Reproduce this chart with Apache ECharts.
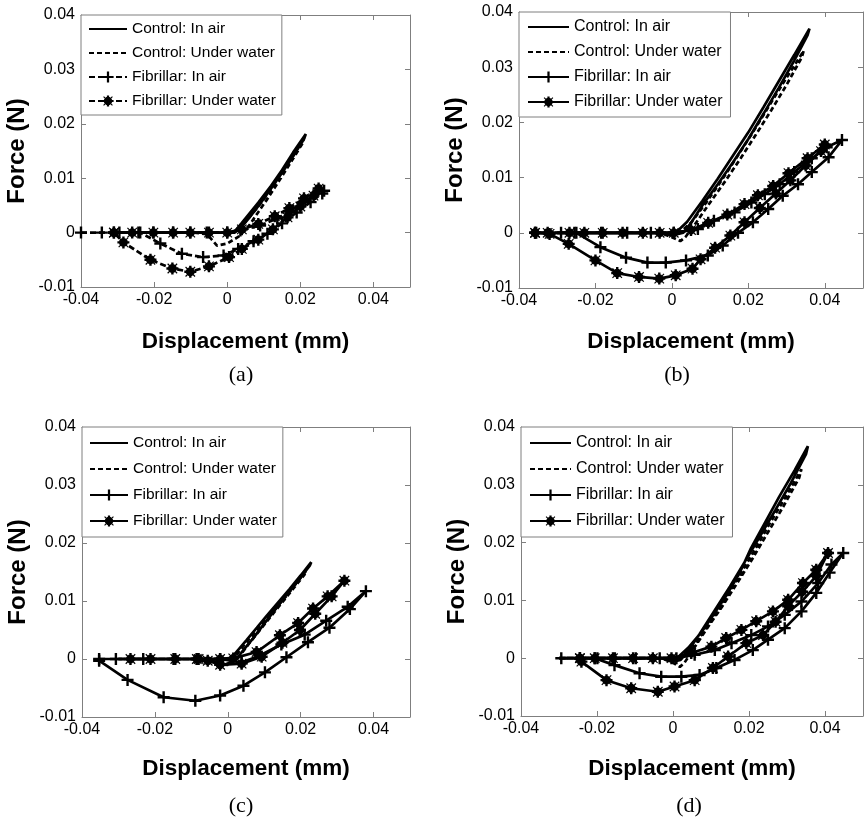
<!DOCTYPE html>
<html>
<head>
<meta charset="utf-8">
<script src="https://cdn.jsdelivr.net/npm/echarts@6/dist/echarts.min.js"></script>
<style>
html,body{margin:0;padding:0;background:#fff;}
#chart{width:865px;height:821px;}
</style>
</head>
<body>
<div id="chart"></div>
<script>
// ---------- Data (Displacement in mm, Force in N) ----------
const xTicks = [-0.04, -0.02, 0, 0.02, 0.04];
const yTicks = [-0.01, 0, 0.01, 0.02, 0.03, 0.04];
const seriesNames = ['Control: In air', 'Control: Under water', 'Fibrillar: In air', 'Fibrillar: Under water'];
const panelLabels = ['(a)', '(b)', '(c)', '(d)'];

// Panel (a)
const aCtrlAir = [[-0.03,0],[0,0],[0.002,0.0002],[0.004,0.0018],[0.0085,0.0055],[0.012,0.0086],[0.015,0.0115],[0.018,0.0147],[0.0215,0.0181],[0.021,0.0172],[0.018,0.014],[0.015,0.011],[0.012,0.0081],[0.009,0.0053],[0.006,0.0027],[0.004,0.0011],[0.002,0],[-0.03,0]];
const aCtrlWater = [[-0.03,0],[0.001,0],[0.004,0.0012],[0.0085,0.0048],[0.012,0.008],[0.015,0.011],[0.018,0.0142],[0.021,0.0174],[0.0205,0.0163],[0.017,0.0125],[0.014,0.0093],[0.011,0.0062],[0.008,0.0033],[0.006,0.0013],[0.003,-0.0008],[0,-0.002],[-0.0028,-0.0024],[-0.0055,-0.0003],[-0.009,0],[-0.03,0]];
const aFibAir = [[-0.04,0],[-0.0343,0],[-0.0295,0],[-0.0243,0],[-0.0202,0],[-0.0148,0],[-0.0101,0],[-0.0056,0],[0,0],[0.0036,0.0004],[0.009,0.0013],[0.0137,0.0026],[0.0173,0.004],[0.0214,0.0059],[0.0265,0.0077],[0.026,0.0072],[0.0228,0.0056],[0.019,0.0037],[0.015,0.0017],[0.011,-0.0002],[0.0072,-0.0016],[0.003,-0.003],[-0.001,-0.0042],[-0.0066,-0.0045],[-0.0124,-0.0039],[-0.0183,-0.002],[-0.0238,0]];
const aFibWater = [[-0.031,0],[-0.026,0],[-0.0202,0],[-0.0148,0],[-0.0101,0],[-0.005,0],[0,0],[0.004,0.0006],[0.0085,0.0016],[0.013,0.003],[0.017,0.0045],[0.021,0.0063],[0.025,0.0081],[0.0236,0.0068],[0.02,0.0048],[0.0165,0.0028],[0.0125,0.0006],[0.0085,-0.0013],[0.004,-0.003],[0.0005,-0.0045],[-0.005,-0.0062],[-0.0101,-0.0072],[-0.015,-0.0066],[-0.021,-0.005],[-0.0284,-0.0018],[-0.031,0]];

// Panel (b)
const bCtrlAir = [[-0.03,0],[0.001,0],[0.004,0.002],[0.008,0.0058],[0.012,0.0098],[0.016,0.014],[0.02,0.0182],[0.024,0.0228],[0.028,0.0275],[0.032,0.0322],[0.036,0.037],[0.0355,0.0358],[0.032,0.0312],[0.028,0.0263],[0.024,0.0216],[0.02,0.017],[0.016,0.0128],[0.012,0.0088],[0.008,0.005],[0.005,0.0018],[0.003,0],[0,-0.0005],[-0.003,0],[-0.03,0]];
const bCtrlWater = [[-0.03,0],[0.002,0],[0.005,0.0018],[0.009,0.0055],[0.013,0.0095],[0.017,0.0137],[0.021,0.018],[0.025,0.0225],[0.029,0.027],[0.0345,0.033],[0.034,0.0318],[0.03,0.0268],[0.026,0.0222],[0.022,0.0178],[0.018,0.0135],[0.014,0.0094],[0.01,0.0055],[0.006,0.0015],[0.0035,-0.0008],[0.0022,-0.0015],[0,-0.0008],[-0.003,0],[-0.03,0]];
const bFibAir = [[-0.0355,0],[-0.029,0],[-0.0255,0],[-0.0185,0],[-0.0117,0],[-0.0055,0],[0.0005,0],[0.0068,0.0007],[0.011,0.0022],[0.0164,0.0037],[0.0208,0.0055],[0.0243,0.007],[0.0282,0.0088],[0.032,0.011],[0.0366,0.0135],[0.0405,0.0155],[0.0445,0.0168],[0.041,0.0137],[0.0366,0.011],[0.033,0.0088],[0.029,0.0067],[0.0252,0.0043],[0.0212,0.0019],[0.0173,0],[0.0133,-0.0023],[0.0094,-0.0041],[0.0037,-0.005],[-0.0016,-0.0054],[-0.0064,-0.0054],[-0.012,-0.0045],[-0.0187,-0.0026],[-0.025,0]];
const bFibWater = [[-0.0358,0],[-0.0325,0],[-0.0268,0],[-0.0229,0],[-0.0181,0],[-0.0129,0],[-0.0076,0],[-0.0032,0],[0.0005,0],[0.005,0.0005],[0.0095,0.0018],[0.0145,0.0033],[0.019,0.0052],[0.0225,0.0068],[0.0265,0.0085],[0.0305,0.0108],[0.0355,0.0135],[0.04,0.016],[0.039,0.0148],[0.035,0.0122],[0.031,0.0095],[0.0272,0.0071],[0.023,0.0045],[0.019,0.0019],[0.0153,-0.0005],[0.0113,-0.0027],[0.0075,-0.0048],[0.0054,-0.0065],[0.001,-0.0077],[-0.0033,-0.0083],[-0.0086,-0.008],[-0.0143,-0.0073],[-0.02,-0.005],[-0.027,-0.002],[-0.032,-0.0002],[-0.0358,0]];

// Panel (c)
const cCtrlAir = [[-0.03,0],[-0.002,0],[0.001,0.0002],[0.0052,0.0033],[0.008,0.0054],[0.0106,0.0074],[0.014,0.0099],[0.017,0.0121],[0.02,0.0144],[0.0229,0.0167],[0.0225,0.0161],[0.019,0.0133],[0.016,0.011],[0.013,0.0085],[0.01,0.0061],[0.007,0.0036],[0.004,0.0013],[0.002,-0.0003],[-0.001,-0.001],[-0.004,-0.0004],[-0.007,0],[-0.03,0]];
const cCtrlWater = [[-0.03,0],[0.0015,0],[0.005,0.0028],[0.0105,0.0068],[0.016,0.0108],[0.0215,0.0152],[0.021,0.0145],[0.0155,0.0102],[0.0105,0.0063],[0.006,0.0028],[0.003,0.0003],[0,-0.001],[-0.003,-0.0009],[-0.006,0],[-0.03,0]];
const cFibAir = [[-0.0353,0],[-0.0307,0],[-0.0232,0],[-0.0149,0],[-0.0085,0],[-0.0021,0],[0.0038,-0.0006],[0.0088,0.0006],[0.0147,0.0025],[0.0211,0.0042],[0.027,0.0066],[0.0329,0.009],[0.0379,0.0117],[0.0335,0.0086],[0.0279,0.0054],[0.022,0.0029],[0.0161,0.0003],[0.0102,-0.0023],[0.0043,-0.0046],[-0.0021,-0.0063],[-0.0089,-0.0072],[-0.0176,-0.0066],[-0.0275,-0.0036],[-0.0353,-0.0003]];
const cFibWater = [[-0.0267,0],[-0.0212,0],[-0.0144,0],[-0.008,0],[-0.0021,0],[0.0015,0.0001],[0.0079,0.0012],[0.0143,0.0041],[0.0193,0.0062],[0.0234,0.0087],[0.0274,0.0108],[0.032,0.0135],[0.0285,0.0108],[0.024,0.0078],[0.0198,0.005],[0.015,0.0028],[0.0093,0.0004],[0.0038,-0.0008],[-0.0021,-0.001],[-0.0055,-0.0003],[-0.0085,0]];

// Panel (d)
const dCtrlAir = [[-0.03,0],[0.001,0],[0.004,0.0018],[0.0075,0.0045],[0.0105,0.0074],[0.014,0.0108],[0.0175,0.0147],[0.0205,0.019],[0.024,0.0232],[0.028,0.028],[0.032,0.0325],[0.0355,0.0367],[0.035,0.0353],[0.031,0.0303],[0.027,0.0257],[0.023,0.0212],[0.019,0.0168],[0.015,0.0124],[0.011,0.0083],[0.007,0.0042],[0.004,0.0013],[0.002,-0.0003],[0,-0.0006],[-0.003,0],[-0.03,0]];
const dCtrlWater = [[-0.03,0],[0.002,0],[0.005,0.0016],[0.009,0.0055],[0.013,0.0095],[0.017,0.0138],[0.021,0.0182],[0.025,0.0228],[0.029,0.0272],[0.0338,0.0327],[0.0332,0.0312],[0.029,0.0262],[0.025,0.0218],[0.021,0.0173],[0.017,0.0131],[0.013,0.009],[0.009,0.0052],[0.005,0.0012],[0.003,-0.0008],[0.0018,-0.0015],[0,-0.0008],[-0.003,0],[-0.03,0]];
const dFibAir = [[-0.0294,0],[-0.0245,0],[-0.0199,0],[-0.0153,0],[-0.0098,0],[-0.0035,0],[0.0009,0],[0.0057,0.0006],[0.011,0.0014],[0.0154,0.0026],[0.0206,0.004],[0.025,0.0055],[0.0294,0.0075],[0.0338,0.0098],[0.0382,0.013],[0.0417,0.0162],[0.0448,0.0182],[0.0412,0.0148],[0.0377,0.0113],[0.0338,0.0081],[0.0294,0.0052],[0.025,0.0032],[0.021,0.0014],[0.0162,-0.0003],[0.0114,-0.0017],[0.007,-0.0029],[0.0022,-0.0032],[-0.0031,-0.0032],[-0.0088,-0.0026],[-0.0154,-0.0012],[-0.0206,0]];
const dFibWater = [[-0.0245,0],[-0.0206,0],[-0.0158,0],[-0.0105,0],[-0.0053,0],[-0.0004,0],[0.0048,0.0009],[0.0101,0.002],[0.014,0.0035],[0.018,0.0049],[0.0219,0.0064],[0.0263,0.0081],[0.0303,0.0101],[0.0342,0.013],[0.0377,0.0153],[0.0408,0.0182],[0.0377,0.0142],[0.034,0.0115],[0.0303,0.009],[0.027,0.0063],[0.0237,0.004],[0.0193,0.0026],[0.0145,0.0003],[0.0105,-0.0017],[0.0057,-0.0038],[0.0004,-0.0049],[-0.004,-0.0058],[-0.011,-0.0052],[-0.0175,-0.0038],[-0.0241,-0.0006],[-0.0245,0]];

const panelData = [
  [aCtrlAir, aCtrlWater, aFibAir, aFibWater],
  [bCtrlAir, bCtrlWater, bFibAir, bFibWater],
  [cCtrlAir, cCtrlWater, cFibAir, cFibWater],
  [dCtrlAir, dCtrlWater, dFibAir, dFibWater]
];

// ---------- Layout / style ----------
const FONT = 'Liberation Sans, Arial, Helvetica, sans-serif';
const AXIS_GRAY = '#7f7f7f';
const grids = [
  {left: 81, top: 15, width: 329, height: 272},
  {left: 519, top: 12, width: 344, height: 276},
  {left: 82, top: 427, width: 328, height: 290},
  {left: 521, top: 427, width: 342, height: 289}
];
const legendCfg = [
  {left: 81, top: 15, gap: 8, font: 15.5, iw: 38, pad: [6, 6, 6, 7]},
  {left: 519, top: 12, gap: 9, font: 16, iw: 41, pad: [7, 8, 7, 8]},
  {left: 82, top: 427, gap: 10, font: 15.5, iw: 38, pad: [8, 6, 8, 7]},
  {left: 521, top: 427, gap: 10, font: 16, iw: 41, pad: [8, 8, 8, 8]}
];
const xNameGap = [43, 42, 40, 41];
const captionPos = [[241, 375], [677, 375], [241, 806], [689, 806]];

const plusPath = 'path://M4,0H6V4H10V6H6V10H4V6H0V4H4Z';
const starPath = 'path://M0,4H10V6H0Z M4,0H6V10H4Z M1.4,0.7L9.3,8.6L8.6,9.3L0.7,1.4Z M8.6,0.7L9.3,1.4L1.4,9.3L0.7,8.6Z M3.5,1.5L6.5,1.5L8.5,3.5L8.5,6.5L6.5,8.5L3.5,8.5L1.5,6.5L1.5,3.5Z';

const xAxes = [], yAxes = [], series = [], legends = [], graphics = [];
const xMin = xTicks[0], xMax = 0.05, xInt = xTicks[1] - xTicks[0];
const yMin = yTicks[0], yMax = yTicks[yTicks.length - 1], yInt = 0.01;

grids.forEach((g, i) => {
  const tickStyle = {inside: true, length: 5, lineStyle: {color: AXIS_GRAY, width: 1}};
  const lineStyle = {onZero: false, lineStyle: {color: AXIS_GRAY, width: 1}};
  xAxes.push({
    gridIndex: i, type: 'value', position: 'bottom', min: xMin, max: xMax, interval: xInt,
    axisLine: lineStyle, axisTick: tickStyle, splitLine: {show: false},
    axisLabel: {showMaxLabel: false, color: '#000', fontSize: 16, margin: 5, fontFamily: FONT},
    name: 'Displacement (mm)', nameLocation: 'middle', nameGap: xNameGap[i],
    nameTextStyle: {fontSize: 22.5, fontWeight: 'bold', color: '#000', fontFamily: FONT}
  });
  xAxes.push({
    gridIndex: i, type: 'value', position: 'top', min: xMin, max: xMax, interval: xInt,
    axisLine: lineStyle, axisTick: tickStyle, splitLine: {show: false}, axisLabel: {show: false}
  });
  yAxes.push({
    gridIndex: i, type: 'value', position: 'left', min: yMin, max: yMax, interval: yInt,
    axisLine: lineStyle, axisTick: tickStyle, splitLine: {show: false},
    axisLabel: {color: '#000', fontSize: 16, margin: 6, fontFamily: FONT},
    name: 'Force (N)', nameLocation: 'middle', nameGap: 52,
    nameTextStyle: {fontSize: 24, fontWeight: 'bold', color: '#000', fontFamily: FONT}
  });
  yAxes.push({
    gridIndex: i, type: 'value', position: 'right', min: yMin, max: yMax, interval: yInt,
    axisLine: lineStyle, axisTick: tickStyle, splitLine: {show: false}, axisLabel: {show: false}
  });

  const prefix = 'abcd'[i] + '|';
  const fibDash = i === 0 ? [6, 3] : 'solid';
  const defs = [
    {type: 'solid', symbol: 'none', size: 0},
    {type: [5, 3], symbol: 'none', size: 0},
    {type: fibDash, symbol: plusPath, size: 12},
    {type: fibDash, symbol: starPath, size: 12}
  ];
  defs.forEach((d, k) => {
    series.push({
      type: 'line', name: prefix + seriesNames[k], xAxisIndex: 2 * i, yAxisIndex: 2 * i,
      data: panelData[i][k], symbol: d.symbol, symbolSize: d.size, showSymbol: d.symbol !== 'none',
      lineStyle: {color: '#000', width: 2.7, type: d.type},
      itemStyle: {color: '#000'}, animation: false, z: 2 + k,
      emphasis: {disabled: true}
    });
  });

  const lc = legendCfg[i];
  legends.push({
    orient: 'vertical', left: lc.left, top: lc.top, padding: lc.pad,
    itemWidth: lc.iw, itemHeight: 14, itemGap: lc.gap,
    borderColor: AXIS_GRAY, borderWidth: 1, backgroundColor: '#fff', selectedMode: false,
    textStyle: {fontSize: lc.font, color: '#000', fontFamily: FONT},
    formatter: n => n.split('|')[1],
    data: seriesNames.map((n, k) => k < 2
      ? {name: prefix + n, itemStyle: {opacity: 0}}
      : {name: prefix + n})
  });

  graphics.push({
    type: 'text', x: captionPos[i][0], y: captionPos[i][1],
    style: {text: panelLabels[i], fontSize: 22, fontFamily: 'Liberation Serif, Times New Roman, serif',
      fill: '#000', textAlign: 'center', textVerticalAlign: 'middle'}
  });
});

const chart = echarts.init(document.getElementById('chart'), null, {renderer: 'canvas'});
chart.setOption({
  backgroundColor: '#fff',
  animation: false,
  textStyle: {fontFamily: FONT},
  grid: grids,
  xAxis: xAxes,
  yAxis: yAxes,
  legend: legends,
  series: series,
  graphic: graphics
});
</script>
</body>
</html>
